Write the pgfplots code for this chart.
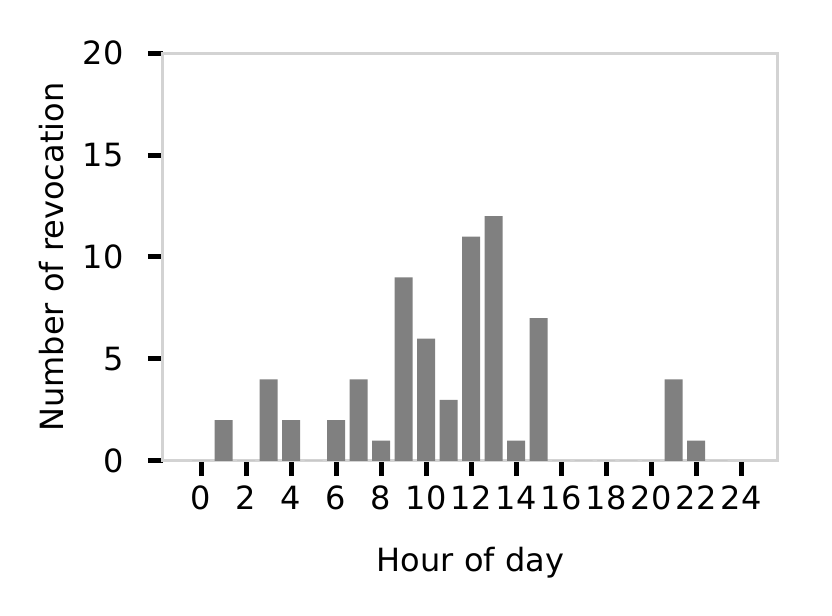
\documentclass[border=0pt]{standalone}
\usepackage{pgfplots}
\pgfplotsset{compat=1.18}
\usepackage{fontspec}
\setmainfont{DejaVu Sans}
\definecolor{barclr}{RGB}{128,128,128}
\definecolor{spineclr}{RGB}{211,211,211}

\begin{document}
\begin{tikzpicture}
\useasboundingbox (-81.5pt,-77.5pt) rectangle (334.5pt,230.5pt);
\begin{axis}[
    at={(0,0)}, anchor=south west, scale only axis,
    width=307.5pt, height=204pt,
    xmin=-1.69, xmax=25.64, ymin=0, ymax=20,
    xtick={0,2,...,24}, ytick={0,5,...,20},
    xtick pos=left, ytick pos=left,
    axis line style={spineclr, line width=1.5pt},
    tick align=outside, major tick length=7.5pt,
    tick style={black, line width=2.5pt},
    /pgf/number format/assume math mode=true,
    ticklabel style={font=\fontsize{16}{19}\selectfont},
    xticklabel style={anchor=base, inner sep=0pt, yshift=-16.9pt},
    yticklabel style={anchor=east, inner sep=0pt, xshift=-12pt},
    label style={font=\fontsize{16}{19}\selectfont},
    xlabel={Hour of day},
    ylabel={Number of revocation},
    xlabel style={at={(axis description cs:0.5,-0.25)}, anchor=center},
    ylabel style={at={(axis description cs:-0.1805,0.5)}, anchor=center},
]
\addplot[ybar, bar width=0.8, fill=barclr, draw=none] coordinates {
    (0,0) (1,2) (2,0) (3,4) (4,2) (5,0) (6,2) (7,4) (8,1) (9,9)
    (10,6) (11,3) (12,11) (13,12) (14,1) (15,7) (16,0) (17,0)
    (18,0) (19,0) (20,0) (21,4) (22,1) (23,0)
};
\end{axis}
\end{tikzpicture}
\end{document}
